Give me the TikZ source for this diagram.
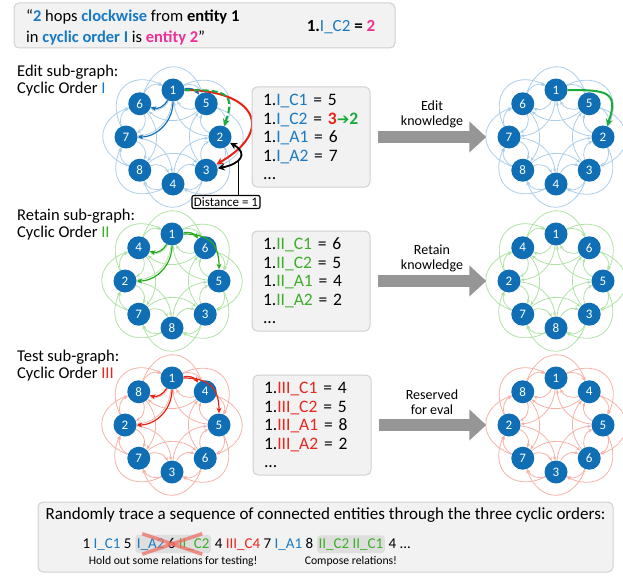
\documentclass[tikz,border=0pt]{standalone}
\usepackage{fontspec}
\setmainfont{Carlito}
\newfontfamily\symfont{DejaVu Sans}
\usetikzlibrary{arrows.meta,positioning,backgrounds}

\definecolor{nodeblue}{RGB}{16,110,180}
\definecolor{liteblue}{RGB}{172,206,234}
\definecolor{litegreen}{RGB}{176,226,166}
\definecolor{litered}{RGB}{246,178,168}
\definecolor{darkblue}{RGB}{20,110,180}
\definecolor{dgreen}{RGB}{40,170,30}
\definecolor{dred}{RGB}{230,35,20}
\definecolor{tblue}{RGB}{25,122,196}
\definecolor{tgreen}{RGB}{60,175,40}
\definecolor{tred}{RGB}{232,40,30}
\definecolor{tpink}{RGB}{238,48,150}
\definecolor{fixgreen}{RGB}{25,170,60}
\definecolor{boxfill}{RGB}{242,242,242}
\definecolor{boxline}{RGB}{208,208,208}
\definecolor{arrowgray}{RGB}{150,150,150}
\definecolor{hilite}{RGB}{222,222,222}
\definecolor{crossred}{RGB}{240,110,100}

\newcommand{\ordI}[1]{\textcolor{tblue}{#1}}
\newcommand{\ordII}[1]{\textcolor{tgreen}{#1}}
\newcommand{\ordIII}[1]{\textcolor{tred}{#1}}

% #1 prefix, #2 x, #3 y, #4 labels clockwise from top, #5 edge colour
\newcommand{\cycgraph}[5]{%
  \foreach \lab [count=\k from 0] in {#4} {
    \node[ent, alias=#1\lab] (#1p\k) at ({#2+47*sin(45*\k)},{-#3+47*cos(45*\k)}) {\lab};
  }
  \begin{pgfonlayer}{background}
    \foreach \k in {0,...,7} {
      \pgfmathtruncatemacro\ka{mod(\k+1,8)}
      \pgfmathtruncatemacro\kb{mod(\k+2,8)}
      \pgfmathtruncatemacro\kc{mod(\k+7,8)}
      \pgfmathtruncatemacro\kd{mod(\k+6,8)}
      \draw[lite=#5] (#1p\k) to[bend left=45] (#1p\ka);
      \draw[lite=#5] (#1p\k) to[bend left=70, looseness=1.6] (#1p\kb);
      \draw[lite=#5] (#1p\k) to[bend left=45] (#1p\kc);
      \draw[lite=#5] (#1p\k) to[bend left=40] (#1p\kd);
    }
  \end{pgfonlayer}
}

\tikzset{
  ent/.style={circle, fill=nodeblue, text=white, minimum size=23pt, inner sep=0pt,
    font=\fontsize{13}{13}\selectfont},
  lite/.style={draw=#1, line width=0.8pt, -{Stealth[length=4pt,width=3.5pt]}},
  hl/.style={draw=#1, line width=1.2pt, -{Stealth[length=5.5pt,width=5pt]}},
  panel/.style={draw=boxline, fill=boxfill, rounded corners=5pt, line width=1pt},
  listbox/.style={panel, minimum width=118pt, minimum height=100pt, text width=96pt,
    inner xsep=11pt, align=left, font=\fontsize{17.5}{18.5}\selectfont},
  bigarrow/.style={draw=arrowgray, line width=12pt, -{Triangle[length=17pt,width=30pt]}},
  caption/.style={align=left, anchor=west, inner sep=2pt, font=\fontsize{16.5}{17}\selectfont},
  arrlabel/.style={align=center, font=\fontsize{14}{15}\selectfont},
  seqtxt/.style={inner xsep=1.5pt, inner ysep=3pt, font=\fontsize{15}{17}\selectfont},
  hlbox/.style={seqtxt, fill=hilite, rounded corners=3pt},
  note/.style={inner sep=1pt, font=\fontsize{11.7}{13}\selectfont},
  cross/.style={draw=crossred, line width=3.5pt, opacity=0.75}
}

\begin{document}
\begin{tikzpicture}[x=1pt,y=1pt]
\useasboundingbox (0,0) rectangle (623,-575);

% statement on top
\node[panel, minimum width=381pt, minimum height=45pt] (top) at (204.5,-25.5) {};
\node[anchor=west, align=left, inner sep=2pt, font=\fontsize{16.5}{21}\selectfont] (fact) at (24,-27.5)
  {“\ordI{\textbf{2}} hops \ordI{\textbf{clockwise}} from \textbf{entity 1}\\
   in \ordI{\textbf{cyclic order I}} is \textcolor{tpink}{\textbf{entity 2}}”};
\node[font=\fontsize{17}{18}\selectfont] (factval) at (341,-27) {\textbf{1.}\ordI{I\_C2} \textbf{= \textcolor{tpink}{2}}};

% edit sub-graph
\node[caption] (edit) at (15,-80.5) {Edit sub-graph:\\Cyclic Order \ordI{I}};
\cycgraph{e}{173}{137}{1,5,2,3,4,8,7,6}{liteblue}
\cycgraph{f}{556}{137}{1,5,2,3,4,8,7,6}{liteblue}
\draw[hl=darkblue] (e1) to[bend left=30] (e5);
\draw[hl=darkblue] (e1) to[bend left=40] (e6);
\draw[hl=darkblue] (e1) to[bend left=45] (e7);
\draw[dred, line width=2pt, -{Stealth[length=7pt,width=7pt]}] (e1) to[out=0,in=30,looseness=2.2] (e3);
\draw[fixgreen, line width=2pt, dashed, dash pattern=on 6pt off 3pt, -{Stealth[length=7pt,width=7pt]}] (e1) to[out=0,in=70,looseness=1.8] (e2);
\draw[black, line width=1.8pt, {Stealth[length=7pt,width=7pt]}-{Stealth[length=7pt,width=7pt]}] (e2) to[out=-30,in=10,looseness=2] coordinate[pos=0.55] (dpt) (e3);
\node[draw, rounded corners=2pt, line width=1.2pt, fill=white, inner sep=2pt, font=\fontsize{13}{13}\selectfont] (dist) at (226,-202) {Distance = 1};
\draw[line width=1.5pt] (dist.north -| dpt) -- (dpt);
\draw[fixgreen, line width=2pt, -{Stealth[length=7pt,width=7pt]}] (f1) to[out=0,in=70,looseness=1.8] (f2);

\node[listbox] (el) at (311,-137) {1.\ordI{I\_C1} = 5\\
  \mbox{1.\ordI{I\_C2} = \textcolor{dred}{\textbf{3}}\textcolor{fixgreen}{{\symfont\fontsize{15}{15}\selectfont ➔}\textbf{2}}}\\
  1.\ordI{I\_A1} = 6\\1.\ordI{I\_A2} = 7\\...};
\draw[bigarrow] ([xshift=7pt]el.east) -- ([xshift=-11pt]fp6.west);
\node[arrlabel] (elab) at (432,-114) {Edit\\knowledge};

% retain sub-graph
\node[caption] (retain) at (15,-224.5) {Retain sub-graph:\\Cyclic Order \ordII{II}};
\cycgraph{r}{172}{281}{1,6,5,3,8,7,2,4}{litegreen}
\cycgraph{s}{556}{281}{1,6,5,3,8,7,2,4}{litegreen}
\draw[hl=dgreen] (r1) to[bend left=30] (r6);
\draw[hl=dgreen] (r1) to[bend left=45, looseness=1.3] (r5);
\draw[hl=dgreen] (r1) to[bend left=40] (r4);
\draw[hl=dgreen] (r1) to[bend left=45] (r2);

\node[listbox] (rl) at (311,-281) {1.\ordII{II\_C1} = 6\\1.\ordII{II\_C2} = 5\\
  1.\ordII{II\_A1} = 4\\1.\ordII{II\_A2} = 2\\...};
\draw[bigarrow] ([xshift=7pt]rl.east) -- ([xshift=-11pt]sp6.west);
\node[arrlabel] (rlab) at (432,-258) {Retain\\knowledge};

% test sub-graph
\node[caption] (test) at (15,-366) {Test sub-graph:\\Cyclic Order \ordIII{III}};
\cycgraph{t}{172}{425}{1,4,5,6,3,7,2,8}{litered}
\cycgraph{u}{556}{425}{1,4,5,6,3,7,2,8}{litered}
\draw[hl=dred] (t1) to[bend left=30] (t4);
\draw[hl=dred] (t1) to[bend left=45, looseness=1.3] (t5);
\draw[hl=dred] (t1) to[bend left=40] (t8);
\draw[hl=dred] (t1) to[bend left=45] (t2);

\node[listbox] (tl) at (312,-425) {1.\ordIII{III\_C1} = 4\\1.\ordIII{III\_C2} = 5\\
  1.\ordIII{III\_A1} = 8\\1.\ordIII{III\_A2} = 2\\...};
\draw[bigarrow] ([xshift=7pt]tl.east) -- ([xshift=-11pt]up6.west);
\node[arrlabel] (tlab) at (432,-402) {Reserved\\for eval};

% random trace
\node[panel, minimum width=575pt, minimum height=70pt] (trace) at (325.5,-537) {};
\node[font=\fontsize{17}{18}\selectfont] (tracetitle) at (325.5,-515) {Randomly trace a sequence of connected entities through the three cyclic orders:};
\node[seqtxt, anchor=base west] (q1) at (81,-548) {1 \ordI{I\_C1} 5};
\node[hlbox, base right=2pt of q1] (ho) {\ordI{I\_A2} 6 \ordII{II\_C2}};
\node[seqtxt, base right=2pt of ho] (q2) {4 \ordIII{III\_C4} 7 \ordI{I\_A1} 8};
\node[hlbox, base right=2pt of q2] (cp) {\ordII{II\_C2 II\_C1}};
\node[seqtxt, base right=2pt of cp] (q3) {4 ...};
\draw[cross] ([xshift=7pt,yshift=1pt]ho.north west) -- ([xshift=-9pt,yshift=-1pt]ho.south east);
\draw[cross] ([xshift=7pt,yshift=-1pt]ho.south west) -- ([xshift=-9pt,yshift=1pt]ho.north east);
\node[note, below=2pt of ho] (holdout) {Hold out some relations for testing!};
\node[note, below=2pt of cp] (compose) {Compose relations!};
\end{tikzpicture}
\end{document}
